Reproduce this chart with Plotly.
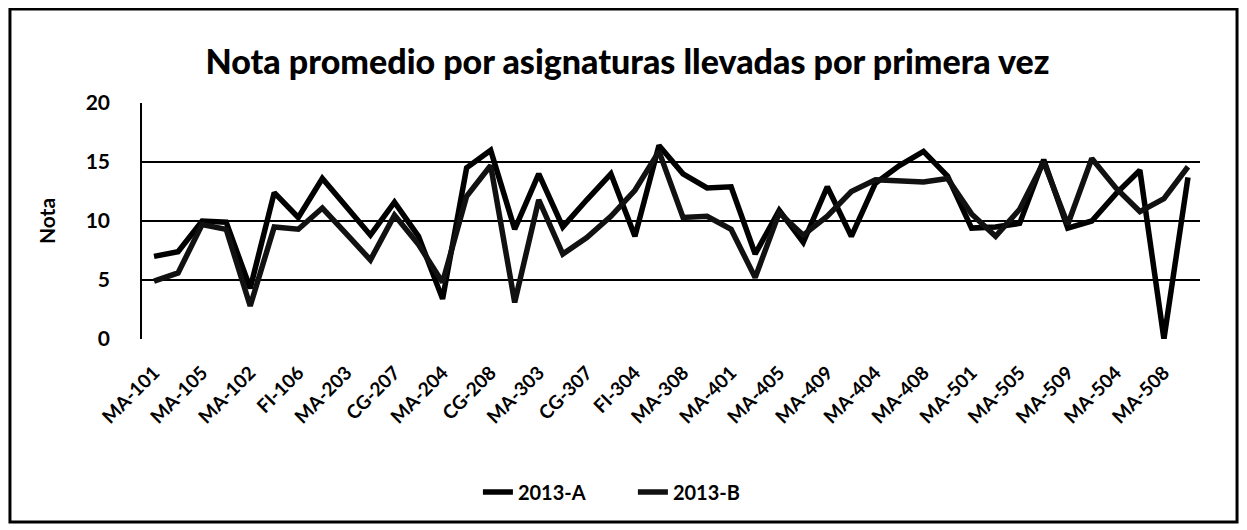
import plotly.graph_objects as go

# category labels shown on the axis (every second course)
tick_labels = [
    "MA-101", "MA-105", "MA-102", "FI-106", "MA-203", "CG-207", "MA-204", "CG-208",
    "MA-303", "CG-307", "FI-304", "MA-308", "MA-401", "MA-405", "MA-409", "MA-404",
    "MA-408", "MA-501", "MA-505", "MA-509", "MA-504", "MA-508",
]
positions = list(range(44))

nota_2013a = [
    7.0, 7.4, 10.0, 9.9, 4.3, 12.4, 10.3, 13.6, 11.2, 8.8,
    11.6, 8.7, 3.4, 14.5, 16.0, 9.3, 14.0, 9.5, 11.8, 14.0,
    8.7, 16.4, 14.0, 12.8, 12.9, 7.2, 10.9, 8.2, 12.9, 8.7,
    13.2, 14.7, 15.9, 13.8, 9.4, 9.5, 9.8, 15.2, 9.4, 10.0,
    12.3, 14.3, 0.0, 13.7,
]
nota_2013b = [
    4.9, 5.6, 9.7, 9.3, 2.8, 9.5, 9.3, 11.1, 8.9, 6.7,
    10.5, 8.0, 4.8, 12.1, 14.7, 3.1, 11.8, 7.2, 8.6, 10.4,
    12.6, 15.9, 10.3, 10.4, 9.3, 5.2, 10.7, 8.8, 10.4, 12.5,
    13.5, 13.4, 13.3, 13.6, 10.6, 8.7, 11.0, 15.0, 9.7, 15.3,
    12.8, 10.8, 11.9, 14.6,
]

FONT = "Lato, 'Open Sans', sans-serif"

fig = go.Figure()
for name, vals, color in [("2013-A", nota_2013a, "#000000"), ("2013-B", nota_2013b, "#111111")]:
    fig.add_trace(
        go.Scatter(
            x=positions,
            y=vals,
            mode="lines",
            name=name,
            line=dict(color=color, width=5.5),
            hovertemplate=name + ": %{y:.1f}<extra></extra>",
        )
    )

fig.update_layout(
    width=1239,
    height=522,
    paper_bgcolor="white",
    plot_bgcolor="white",
    font=dict(family=FONT, color="black", size=18, weight="bold"),
    margin=dict(l=134, r=47, t=95, b=191),
    title=dict(
        text="Nota promedio por asignaturas llevadas por primera vez",
        x=0.5,
        xanchor="center",
        y=0.897,
        yanchor="middle",
        font=dict(family=FONT, size=34, color="black", weight=900),
    ),
    legend=dict(
        orientation="h",
        x=0.464,
        xanchor="center",
        y=-0.648,
        yanchor="middle",
        entrywidth=110,
        entrywidthmode="pixels",
        font=dict(size=20, weight="bold"),
    ),
    showlegend=True,
)

fig.update_xaxes(
    range=[-0.5, 43.5],
    tickvals=positions[::2],
    ticktext=tick_labels,
    tickangle=-45,
    ticks="",
    showgrid=False,
    showline=False,
    zeroline=False,
    automargin=False,
    ticklabelstandoff=18,
    tickfont=dict(size=19, weight="bold"),
)
fig.update_yaxes(
    range=[0, 20],
    tickvals=[0, 5, 10, 15, 20],
    showgrid=True,
    gridcolor="black",
    gridwidth=1.5,
    showline=True,
    linecolor="black",
    linewidth=1.5,
    zeroline=False,
    automargin=False,
    ticks="",
    ticklabelstandoff=26,
    tickfont=dict(size=21, weight="bold"),
    title=dict(text="Nota", font=dict(size=21, weight="bold"), standoff=24),
)

# outer chart frame
fig.add_shape(
    type="rect",
    xref="paper",
    yref="paper",
    x0=-0.1248,
    x1=1.035,
    y0=-0.775,
    y1=1.398,
    line=dict(color="black", width=3),
    layer="below",
)

fig.write_html("out.html")
